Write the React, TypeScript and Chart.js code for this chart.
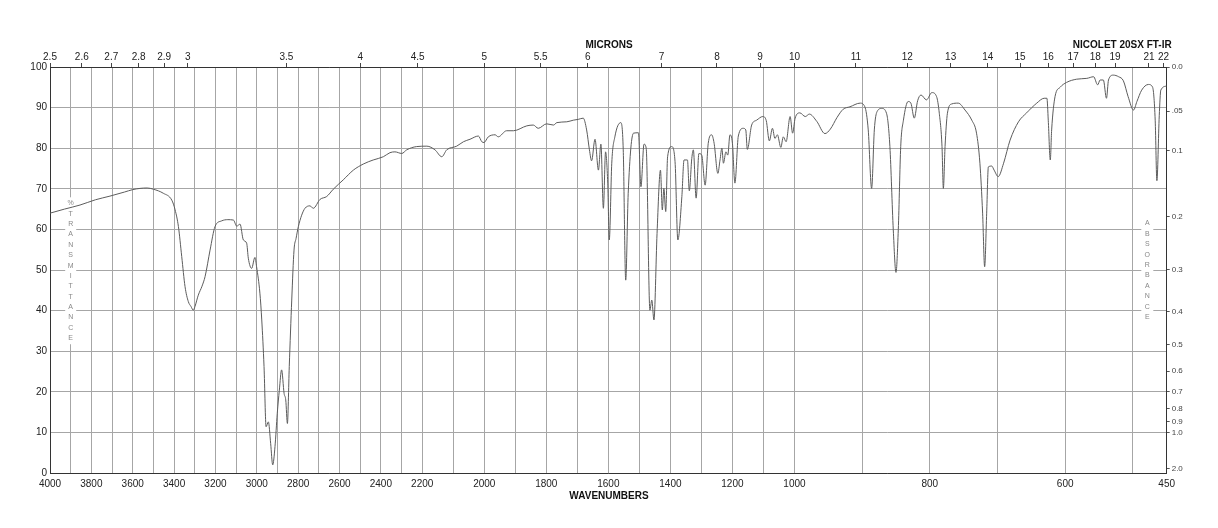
import React, { useEffect, useRef } from "react";
import { Chart, registerables } from "chart.js";

Chart.register(...registerables);

// ---- Spectrum data (wavenumber cm-1, %transmittance) ----
const wavenumbers = [
  4000, 3930, 3855, 3780, 3710, 3640, 3600, 3565, 3530, 3500, 3452, 3411, 3395, 3379, 3363, 3347, 3331, 3318, 3307, 3299,
  3283, 3265, 3250, 3226, 3202, 3170, 3140, 3113, 3097, 3081, 3065, 3049, 3041, 3025, 3009, 3001, 2985, 2976, 2965, 2955,
  2944, 2933, 2923, 2912, 2901, 2891, 2880, 2868, 2860, 2852, 2843, 2831, 2820, 2810, 2799, 2783, 2767, 2743, 2727, 2694,
  2662, 2630, 2582, 2533, 2485, 2437, 2388, 2356, 2332, 2299, 2275, 2227, 2185, 2159, 2137, 2121, 2089, 2067, 2046, 2019,
  2008, 2001, 1987, 1965, 1955, 1928, 1906, 1863, 1842, 1826, 1799, 1777, 1766, 1734, 1713, 1697, 1681, 1670, 1661, 1654,
  1643, 1632, 1624, 1616, 1609, 1602, 1597, 1589, 1579, 1560, 1552, 1544, 1536, 1519, 1503, 1495, 1485, 1478, 1466, 1460,
  1453, 1443, 1432, 1426, 1421, 1415, 1409, 1396, 1385, 1376, 1363, 1356, 1345, 1339, 1331, 1326, 1317, 1308, 1299, 1288,
  1278, 1267, 1259, 1247, 1240, 1234, 1229, 1221, 1215, 1208, 1200, 1192, 1181, 1165, 1157, 1152, 1138, 1122, 1102, 1091,
  1081, 1071, 1063, 1055, 1044, 1036, 1027, 1014, 1006, 999, 992, 984, 978, 967, 955, 947, 937, 928, 918, 903,
  896, 891, 886, 882, 878, 871, 864, 859, 854, 850, 846.6, 843, 839, 832, 828, 823, 818, 813, 805, 797,
  790, 786, 782, 780, 777.5, 774, 767.6, 758, 748, 738, 731, 726, 722, 719, 716, 713.5, 708.5, 705, 699, 691,
  681.4, 669, 657, 642, 631, 627, 625, 622, 620, 615, 607.5, 598, 583, 568, 558, 552, 548.4, 543.6, 539, 536,
  529, 521, 514, 507, 499, 494, 487, 477, 471, 467, 464.5, 461, 458.7, 450,
];
const transmittance = [
  64.0, 65.0, 66.0, 67.3, 68.2, 69.2, 69.8, 70.1, 70.2, 69.9, 68.9, 67.2, 64.8, 60.7, 53.3, 45.9, 42.2, 41.0, 40.1, 41.0,
  43.8, 46.0, 48.4, 54.9, 60.7, 62.1, 62.4, 62.3, 60.8, 61.3, 57.4, 56.6, 52.9, 50.4, 53.1, 50.8, 44.3, 37.7, 26.2, 11.4,
  12.6, 7.3, 2.0, 6.5, 14.7, 20.4, 25.4, 19.6, 18.0, 12.2, 26.2, 42.6, 54.9, 57.8, 60.7, 63.5, 65.2, 65.8, 65.2, 67.4,
  68.1, 69.9, 72.2, 74.6, 76.1, 77.1, 77.9, 78.9, 79.1, 78.7, 79.6, 80.4, 80.5, 79.6, 77.9, 79.6, 80.5, 81.6, 82.2, 83.0,
  81.6, 81.4, 82.8, 83.3, 82.8, 84.3, 84.3, 85.5, 85.7, 84.9, 86.0, 85.7, 86.3, 86.5, 86.9, 87.1, 87.4, 84.5, 79.6, 76.9,
  82.2, 74.6, 81.0, 65.2, 79.1, 71.4, 57.4, 76.3, 82.8, 86.3, 79.6, 47.5, 68.9, 83.7, 83.8, 70.5, 81.0, 80.0, 40.1, 42.6,
  37.7, 59.0, 74.6, 64.8, 70.1, 64.4, 77.9, 80.4, 76.7, 57.4, 68.1, 77.1, 77.1, 69.5, 77.5, 79.6, 67.7, 78.7, 78.3, 70.9,
  81.2, 83.3, 81.2, 73.8, 77.1, 80.0, 76.3, 79.1, 78.3, 83.3, 81.2, 71.4, 83.0, 84.9, 84.5, 79.7, 85.7, 86.9, 87.8, 86.8,
  81.8, 84.9, 82.4, 83.3, 80.2, 82.8, 81.6, 87.8, 83.7, 87.4, 88.7, 87.8, 88.4, 86.6, 83.6, 84.7, 87.6, 89.6, 90.2, 91.1,
  90.2, 84.5, 70.1, 84.5, 89.0, 89.8, 88.6, 80.4, 59.9, 49.4, 59.9, 80.4, 86.9, 91.5, 91.1, 87.4, 91.7, 93.1, 91.9, 93.7,
  92.7, 88.6, 80.4, 70.1, 80.4, 88.6, 90.9, 91.1, 89.4, 86.9, 83.7, 76.3, 64.0, 50.8, 64.0, 75.4, 75.6, 74.6, 73.0, 76.3,
  82.0, 86.5, 88.7, 91.1, 92.3, 92.3, 86.9, 77.1, 84.5, 92.7, 95.0, 96.2, 97.0, 97.2, 97.6, 95.6, 96.8, 96.8, 92.3, 96.8,
  98.0, 97.6, 96.6, 92.7, 89.4, 91.5, 94.3, 95.7, 95.1, 86.9, 72.0, 88.0, 94.3, 95.3,
];

// ---- Axis ticks ----
const gridWavenumbers = [
  4000, 3900, 3800, 3700, 3600, 3500, 3400, 3300, 3200, 3100, 3000, 2900, 2800, 2700, 2600, 2500, 2400, 2300, 2200,
  2100, 2000, 1900, 1800, 1700, 1600, 1500, 1400, 1300, 1200, 1100, 1000, 900, 800, 700, 600, 500, 450,
];
const wavenumberLabels = [
  4000, 3800, 3600, 3400, 3200, 3000, 2800, 2600, 2400, 2200, 2000, 1800, 1600, 1400, 1200, 1000, 800, 600, 450,
];
const micronTicks = [2.5, 2.6, 2.7, 2.8, 2.9, 3, 3.5, 4, 4.5, 5, 5.5, 6, 7, 8, 9, 10, 11, 12, 13, 14, 15, 16, 17, 18, 19, 21, 22];
const transmittanceTicks = [0, 10, 20, 30, 40, 50, 60, 70, 80, 90, 100];
const absorbanceTicks = [0, 0.05, 0.1, 0.2, 0.3, 0.4, 0.5, 0.6, 0.7, 0.8, 0.9, 1.0, 2.0];
const absorbanceLabels = ["0.0", ".05", "0.1", "0.2", "0.3", "0.4", "0.5", "0.6", "0.7", "0.8", "0.9", "1.0", "2.0"];

const FONT = "'Liberation Sans', Arial, Helvetica, sans-serif";

// Piecewise wavenumber axis: 4000-2200, 2200-1000, 1000-450 each take one third.
function toAxis(wn: number): number {
  if (wn >= 2200) return (4000 - wn) / 1800;
  if (wn >= 1000) return 1 + (2200 - wn) / 1200;
  return 2 + (1000 - wn) / 550;
}

const overlayPlugin = {
  id: "irOverlay",
  beforeDatasetsDraw(chart: any) {
    const ctx = chart.ctx;
    ctx.save();
    const drawStack = (text: string, x: number, y0: number, step: number, boxW: number) => {
      const chars = Array.from(text);
      ctx.fillStyle = "#ffffff";
      ctx.fillRect(x - boxW / 2, y0 - 6, boxW, (chars.length - 1) * step + 12);
      ctx.fillStyle = "#888888";
      ctx.font = `7px ${FONT}`;
      ctx.textAlign = "center";
      ctx.textBaseline = "middle";
      chars.forEach((c, i) => ctx.fillText(c, x, y0 + i * step));
    };
    drawStack("%TRANSMITTANCE", 70.7, 203.3, 10.38, 11);
    drawStack("ABSORBANCE", 1147.3, 223.3, 10.45, 12);
    ctx.restore();
  },
  afterDraw(chart: any) {
    const ctx = chart.ctx;
    ctx.save();
    ctx.fillStyle = "#111111";
    ctx.font = `bold 10px ${FONT}`;
    ctx.textBaseline = "middle";
    ctx.textAlign = "center";
    ctx.fillText("MICRONS", 609, 45);
    ctx.fillText("WAVENUMBERS", 609, 496.5);
    ctx.textAlign = "right";
    ctx.fillText("NICOLET 20SX FT-IR", 1171.7, 45);
    ctx.restore();
  },
};

export default function App() {
  const canvasRef = useRef<HTMLCanvasElement | null>(null);

  useEffect(() => {
    if (!canvasRef.current) return;
    const points = wavenumbers.map((w, i) => ({ x: toAxis(w), y: transmittance[i] }));
    const chart = new Chart(canvasRef.current, {
      type: "line",
      data: {
        datasets: [
          {
            data: points,
            borderColor: "#5c5c5c",
            borderWidth: 1,
            pointRadius: 0,
            fill: false,
            cubicInterpolationMode: "monotone",
            xAxisID: "x",
            yAxisID: "y",
          },
        ],
      },
      options: {
        responsive: false,
        animation: false,
        layout: { padding: 0 },
        plugins: { legend: { display: false }, tooltip: { enabled: false }, title: { display: false } },
        scales: {
          x: {
            type: "linear",
            position: "bottom",
            min: 0,
            max: 3,
            afterBuildTicks: (s: any) => {
              s.ticks = gridWavenumbers.map((w) => ({ value: toAxis(w) }));
            },
            afterFit: (s: any) => {
              s.height = 55;
            },
            ticks: {
              autoSkip: false,
              maxRotation: 0,
              minRotation: 0,
              padding: 5,
              color: "#222",
              font: { family: FONT, size: 10 },
              callback: (_v: any, i: number) => {
                const w = gridWavenumbers[i];
                return wavenumberLabels.includes(w) ? String(w) : "";
              },
            },
            grid: { color: "#a6a6a6", lineWidth: 1, drawTicks: false },
            border: { color: "#333", width: 1 },
          },
          xTop: {
            type: "linear",
            position: "top",
            min: 0,
            max: 3,
            afterBuildTicks: (s: any) => {
              s.ticks = micronTicks.map((m) => ({ value: toAxis(10000 / m) }));
            },
            afterFit: (s: any) => {
              s.height = 67;
            },
            ticks: {
              autoSkip: false,
              maxRotation: 0,
              minRotation: 0,
              padding: 0,
              color: "#222",
              font: { family: FONT, size: 10 },
              callback: (_v: any, i: number) => String(micronTicks[i]),
            },
            grid: { drawOnChartArea: false, drawTicks: true, tickLength: 4, color: "#444" },
            border: { color: "#333", width: 1 },
          },
          y: {
            type: "linear",
            position: "left",
            min: 0,
            max: 100,
            afterBuildTicks: (s: any) => {
              s.ticks = transmittanceTicks.map((v) => ({ value: v }));
            },
            afterFit: (s: any) => {
              s.width = 50;
            },
            ticks: {
              autoSkip: false,
              padding: 3,
              color: "#222",
              font: { family: FONT, size: 10 },
              callback: (v: any) => String(v),
            },
            grid: { color: "#a6a6a6", lineWidth: 1, drawTicks: false },
            border: { color: "#333", width: 1 },
          },
          yR: {
            type: "linear",
            position: "right",
            min: 0,
            max: 100,
            afterBuildTicks: (s: any) => {
              s.ticks = absorbanceTicks.map((a) => ({ value: 100 * Math.pow(10, -a) }));
            },
            afterFit: (s: any) => {
              s.width = 51.3;
            },
            ticks: {
              autoSkip: false,
              padding: 2,
              color: "#444",
              font: { family: FONT, size: 8 },
              callback: (_v: any, i: number) => absorbanceLabels[i],
            },
            grid: { drawOnChartArea: false, drawTicks: true, tickLength: 3, color: "#555" },
            border: { color: "#333", width: 1 },
          },
        },
      },
      plugins: [overlayPlugin],
    } as any);
    return () => chart.destroy();
  }, []);

  return (
    <div style={{ position: "absolute", left: 0, top: 0, width: 1218, height: 528, background: "#fff" }}>
      <canvas ref={canvasRef} width={1218} height={528} style={{ display: "block", width: 1218, height: 528 }} />
    </div>
  );
}
